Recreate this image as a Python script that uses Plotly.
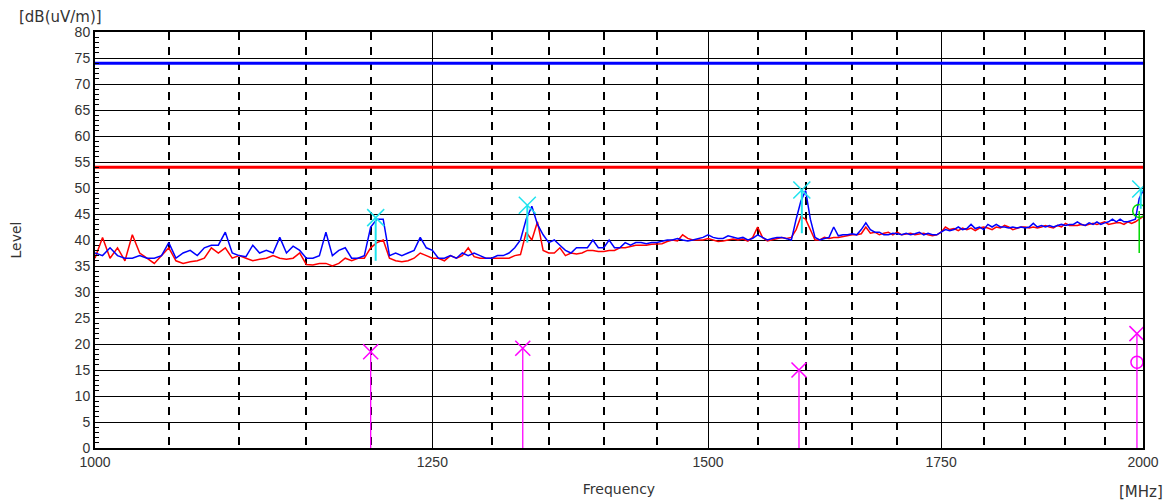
import plotly.graph_objects as go

# Sweep: 1000-2000 MHz in 5 MHz steps
f_start, f_stop, f_step = 1000, 2000, 5
freq = list(range(f_start, f_stop + 1, f_step))

blue_level = [
    37.5, 37, 38.5, 37, 36.5, 36.5, 37, 36.5, 36.5, 37,
    39.5, 36.5, 37.5, 38, 37, 38.5, 39, 39, 41.5, 37.5,
    37, 36.8, 39, 37.5, 38, 37.5, 40.5, 37.5, 38.8, 38,
    36.5, 36.5, 37, 41.5, 37, 38, 38.5, 36.5, 36.5, 37,
    42.5, 44, 44, 37, 37.5, 37, 37.5, 38, 40.5, 38.5,
    38, 36.5, 36.5, 37, 36.5, 37.5, 37, 37.5, 37, 36.5,
    36.5, 37, 37, 37.5, 38.5, 40, 44, 46.5, 43, 41,
    39.5, 40, 39, 38, 37.5, 38.5, 38.5, 38.5, 40, 38.5,
    38.5, 40, 38.5, 38.5, 39.5, 39, 39.5, 39.5, 39.3, 39.5,
    39.5, 39.8, 40, 40, 40.3, 40, 39.8, 40, 40.3, 40.5,
    41, 40.5, 40.3, 40.3, 40.8, 40.5, 40.3, 40.5, 40, 40.3,
    41, 40.5, 40, 40.3, 40.5, 40.5, 40.3, 40, 44, 47.5,
    49.5, 44, 40.5, 40, 40.3, 40.5, 42.5, 40.8, 41, 41,
    41.2, 41, 42, 43.3, 42, 41.5, 41.5, 41, 41, 41.3,
    41.2, 41, 41.3, 41, 41.2, 41.5, 41, 41.3, 41, 41,
    41.5, 42, 41.8, 42, 42.5, 42, 42.2, 43, 42.2, 42.5,
    42, 43, 42.5, 43, 42.5, 42.5, 42.3, 42.5, 42.3, 42.5,
    42.3, 42.5, 43.2, 42.5, 42.8, 42.5, 42.8, 42.5, 42.8, 43,
    42.8, 43, 43, 43.5, 43, 42.8, 43.3, 43, 43.5, 43,
    43.3, 43.5, 44, 43.5, 44, 43.5, 43.5, 43.8, 44, 48,
    49.5,
]

red_level = [
    36.5, 40.5, 36.5, 38.5, 36, 41, 37.5, 36.5, 35.5, 37,
    38.5, 36, 35.5, 35.8, 36, 36.5, 38.5, 37.5, 38.5, 36.5,
    37, 36.5, 36, 36.3, 36.5, 37, 36.5, 36.3, 36.5, 37.5,
    35.3, 35.2, 35.5, 35.5, 35, 35.5, 36.5, 36, 36.5, 36.5,
    38.5, 39.5, 40, 36.5, 36, 35.8, 36, 36.5, 37.5, 37,
    36.5, 36.5, 36, 37, 36.5, 37, 38.5, 36.8, 36.5, 36.5,
    36.5, 36.5, 36.5, 36.5, 37, 37.2, 41.5, 40, 43.5, 38,
    37.5, 37.5, 38.5, 37, 37.5, 37.3, 37.5, 38, 38, 37.8,
    37.8, 38, 38, 38.5, 38.5, 38.7, 39, 39, 39, 39.2,
    39.3, 39.3, 39.7, 40, 39.8, 41, 40.3, 40, 40, 40,
    40.3, 40, 39.7, 39.8, 40, 40.2, 40, 40.2, 39.8, 40.5,
    42.5, 40.5, 39.8, 40, 40.3, 40.5, 40.3, 40.5, 42, 44.5,
    44, 42, 40, 40, 40.5, 40.3, 40.5, 40.5, 40.7, 40.8,
    41, 41, 41.2, 42.5, 41.3, 41.5, 41, 41.3, 41.5, 41,
    41.5, 41, 41.2, 41.3, 41, 41.2, 41.3, 41, 40.8, 41,
    41.5, 42.5, 42, 42.2, 41.8, 42.3, 42, 42.3, 41.8, 42.3,
    42.5, 42.3, 42, 42.5, 42.3, 42.8, 42.5, 42, 42.3, 42.5,
    42.5, 42.3, 42.5, 42.3, 42.5, 42.8, 42.5, 42.3, 42.8, 42.5,
    43.2, 42.8, 42.8, 42.8, 43, 42.8, 43, 43.2, 43, 43.3,
    43.5, 43, 43.2, 43.3, 43.3, 43, 43.5, 43.2, 43.5, 44,
    44.5,
]

# Limit lines
limit_peak = 74
limit_avg = 54

# Peak markers (cyan X) with stick bottoms
pk_freq = [1204, 1331, 1596, 1997]
pk_level = [44.3, 46.7, 49.6, 49.8]
pk_base = [36.0, 39.5, 41.3, 46.0]

# Green circle marker
gr_freq = [1995]
gr_level = [45.6]
gr_base = [37.5]

# Magenta markers (X) with sticks to 0
mg_freq = [1200, 1327, 1593, 1992]
mg_level = [18.5, 19.2, 15.0, 22.0]
mg_circ_freq = [1992]
mg_circ_level = [16.5]

x_major = [1000, 1250, 1500, 1750, 2000]
x_minor = [v for v in range(1050, 2000, 50) if v not in x_major]
y_ticks = list(range(0, 81, 5))

CYAN = "#1fe3ee"
MAG = "#ff00ff"
GREEN = "#00d800"
TXT = "#333333"
FONT = "Liberation Sans"
TFONT = "DejaVu Sans"

fig = go.Figure()

# limit lines
fig.add_trace(go.Scatter(x=[f_start, f_stop], y=[limit_peak, limit_peak], mode="lines",
                         line=dict(color="#0000ff", width=3), hoverinfo="skip"))
fig.add_trace(go.Scatter(x=[f_start, f_stop], y=[limit_avg, limit_avg], mode="lines",
                         line=dict(color="#ff0000", width=3), hoverinfo="skip"))

# spectra
fig.add_trace(go.Scatter(x=freq, y=red_level, mode="lines",
                         line=dict(color="#ff0000", width=1.5)))
fig.add_trace(go.Scatter(x=freq, y=blue_level, mode="lines",
                         line=dict(color="#0000ff", width=1.5)))

# magenta sticks
for f, l in zip(mg_freq, mg_level):
    fig.add_trace(go.Scatter(x=[f, f], y=[0, l], mode="lines",
                             line=dict(color=MAG, width=1.3), hoverinfo="skip"))
fig.add_trace(go.Scatter(x=mg_freq, y=mg_level, mode="markers",
                         marker=dict(symbol="x-thin", size=15, line=dict(color=MAG, width=1.5))))
fig.add_trace(go.Scatter(x=mg_circ_freq, y=mg_circ_level, mode="markers",
                         marker=dict(symbol="circle-open", size=12, color=MAG, line=dict(color=MAG, width=1.5))))

# green
for f, l, b in zip(gr_freq, gr_level, gr_base):
    fig.add_trace(go.Scatter(x=[f, f], y=[b, l], mode="lines",
                             line=dict(color=GREEN, width=1.5), hoverinfo="skip"))
fig.add_trace(go.Scatter(x=gr_freq, y=gr_level, mode="markers",
                         marker=dict(symbol="circle-open", size=13, color=GREEN, line=dict(color=GREEN, width=1.5))))

# cyan peaks
for f, l, b in zip(pk_freq, pk_level, pk_base):
    fig.add_trace(go.Scatter(x=[f, f], y=[b, l], mode="lines",
                             line=dict(color=CYAN, width=2), hoverinfo="skip"))
fig.add_trace(go.Scatter(x=pk_freq, y=pk_level, mode="markers",
                         marker=dict(symbol="x-thin", size=17, line=dict(color=CYAN, width=1.5))))

# page body has an 8px default margin: figure is sized/margined to compensate
fig.update_layout(
    width=1164, height=494,
    margin=dict(l=87, r=29, t=24, b=54, autoexpand=False),
    paper_bgcolor="white", plot_bgcolor="white",
    showlegend=False,
    font=dict(family=FONT, size=14, color=TXT),
    annotations=[
        dict(text="[dB(uV/m)]", xref="paper", yref="paper", x=0, y=1.0, yshift=15, xshift=-78,
             xanchor="left", yanchor="middle", showarrow=False, font=dict(family=TFONT, size=15, color=TXT)),
        dict(text="[MHz]", xref="paper", yref="paper", x=1.0, y=0, yshift=-44, xshift=22,
             xanchor="right", yanchor="middle", showarrow=False, font=dict(family=TFONT, size=15, color=TXT)),
    ],
)

fig.update_xaxes(
    type="log", range=[3, 3.30103], automargin=False,
    tickmode="array", tickvals=x_major, ticktext=[str(v) for v in x_major],
    showgrid=True, gridcolor="black", gridwidth=1,
    minor=dict(tickmode="array", tickvals=x_minor, showgrid=True, gridcolor="black",
               griddash="8px,7px", gridwidth=1.5),
    showline=True, linecolor="black", linewidth=2, mirror=True,
    ticks="", zeroline=False,
    title=dict(text="Frequency", standoff=15, font=dict(family=TFONT, size=14, color=TXT)),
    tickfont=dict(size=14, color=TXT),
)
fig.update_yaxes(
    range=[0, 80], tickmode="array", tickvals=y_ticks, automargin=False,
    showgrid=True, gridcolor="black", gridwidth=1,
    showline=True, linecolor="black", linewidth=2, mirror=True,
    ticks="inside", ticklen=5, tickcolor="black",
    minor=dict(dtick=1, ticks="inside", ticklen=4, tickcolor="black", showgrid=False),
    zeroline=False,
    title=dict(text="Level", standoff=50, font=dict(family=TFONT, size=14, color=TXT)),
    tickfont=dict(size=14, color=TXT),
)

fig.write_html("out.html")
